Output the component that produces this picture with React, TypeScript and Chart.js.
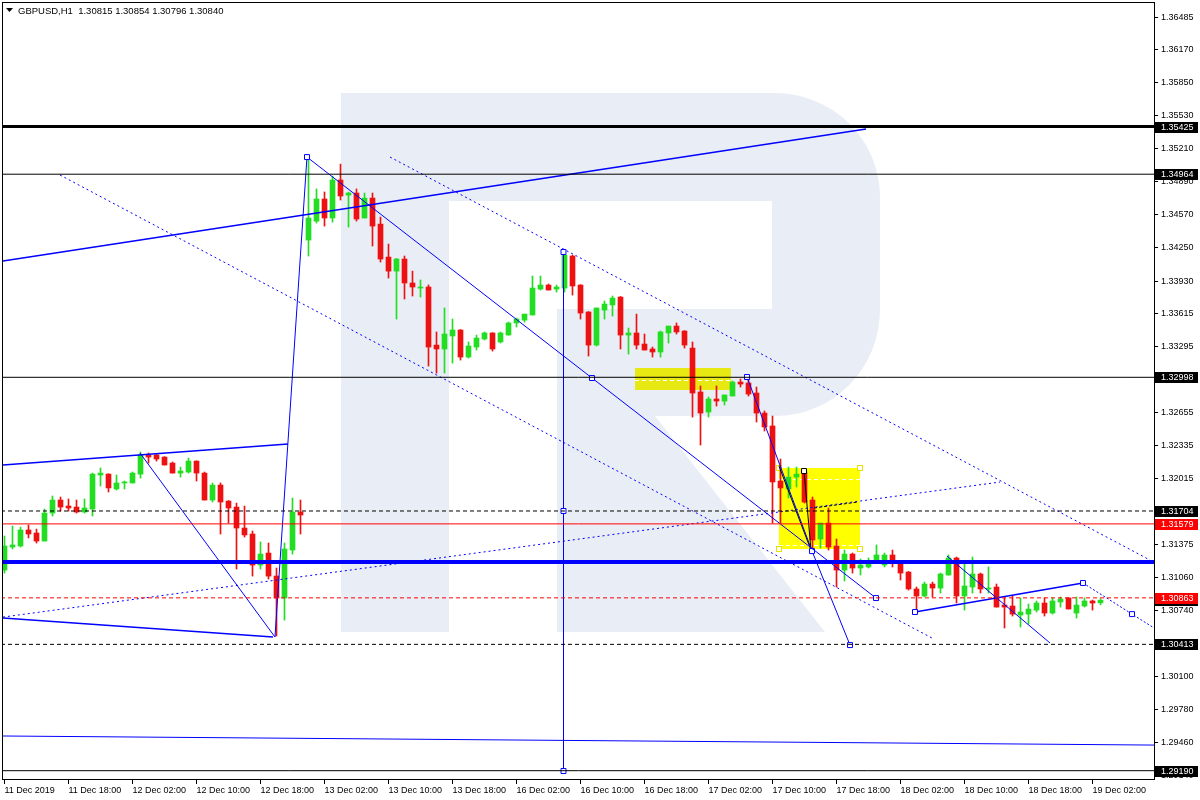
import React, { useEffect, useRef } from 'react';
import { Chart, registerables } from 'chart.js';

Chart.register(...registerables);

// ---------- Candle data (GBPUSD H1, 11 Dec 2019 10:00 .. 19 Dec 2019 03:00) ----------
const OPEN = [
  1.31132, 1.31355, 1.31365, 1.31520, 1.31491, 1.31413, 1.31684, 1.31810, 1.31752, 1.31742,
  1.31694, 1.31723, 1.32052, 1.32061, 1.31917, 1.31975, 1.31975, 1.32061, 1.32246, 1.32246,
  1.32226, 1.32168, 1.32071, 1.32081, 1.32187, 1.32071, 1.31810, 1.31955, 1.31800, 1.31742,
  1.31539, 1.31481, 1.31181, 1.31297, 1.31074, 1.30862, 1.31326, 1.31694, 1.34327, 1.34510,
  1.34724, 1.34540, 1.34908, 1.34762, 1.34782, 1.34540, 1.34733, 1.34481, 1.34162, 1.34026,
  1.34143, 1.33911, 1.33862, 1.33872, 1.33310, 1.33272, 1.33398, 1.33456, 1.33194, 1.33291,
  1.33369, 1.33427, 1.33340, 1.33407, 1.33524, 1.33552, 1.33601, 1.33852, 1.33891, 1.33852,
  1.33862, 1.34172, 1.33891, 1.33630, 1.33310, 1.33649, 1.33698, 1.33775, 1.33407, 1.33427,
  1.33320, 1.33272, 1.33243, 1.33427, 1.33494, 1.33446, 1.33281, 1.32856, 1.32662, 1.32788,
  1.32768, 1.32817, 1.32952, 1.32943, 1.32846, 1.32652, 1.32527, 1.31994, 1.31917, 1.32032,
  1.32081, 1.31810, 1.31433, 1.31587, 1.31365, 1.31132, 1.31287, 1.31152, 1.31162, 1.31210,
  1.31181, 1.31278, 1.31210, 1.31113, 1.30949, 1.30881, 1.30997, 1.30958, 1.31084, 1.31249,
  1.30881, 1.30968, 1.31094, 1.30949, 1.30968, 1.30794, 1.30784, 1.30697, 1.30706, 1.30745,
  1.30813, 1.30716, 1.30823, 1.30862, 1.30716, 1.30784, 1.30833, 1.30815,
];
const HIGH = [
  1.31462, 1.31558, 1.31548, 1.31568, 1.31529, 1.31723, 1.31849, 1.31839, 1.31820, 1.31810,
  1.31820, 1.32071, 1.32120, 1.32065, 1.32052, 1.31994, 1.32081, 1.32275, 1.32265, 1.32255,
  1.32230, 1.32178, 1.32129, 1.32216, 1.32190, 1.32081, 1.31975, 1.31975, 1.31805, 1.31781,
  1.31752, 1.31510, 1.31404, 1.31394, 1.31152, 1.31394, 1.31829, 1.31810, 1.35140, 1.34821,
  1.34792, 1.34946, 1.35062, 1.34790, 1.34821, 1.34782, 1.34782, 1.34549, 1.34288, 1.34150,
  1.34172, 1.34026, 1.33940, 1.33892, 1.33437, 1.33669, 1.33562, 1.33460, 1.33340, 1.33407,
  1.33437, 1.33430, 1.33437, 1.33533, 1.33572, 1.33610, 1.33978, 1.33978, 1.33901, 1.33891,
  1.34211, 1.34181, 1.33895, 1.33635, 1.33669, 1.33736, 1.33785, 1.33780, 1.33475, 1.33610,
  1.33417, 1.33291, 1.33446, 1.33494, 1.33524, 1.33450, 1.33340, 1.32914, 1.32807, 1.32914,
  1.32827, 1.32962, 1.32981, 1.33001, 1.32904, 1.32672, 1.32623, 1.32207, 1.32129, 1.32129,
  1.32110, 1.31839, 1.31587, 1.31733, 1.31433, 1.31326, 1.31297, 1.31239, 1.31249, 1.31375,
  1.31297, 1.31326, 1.31215, 1.31118, 1.30968, 1.31016, 1.31016, 1.31103, 1.31278, 1.31258,
  1.31210, 1.31258, 1.31103, 1.31162, 1.30997, 1.30862, 1.30881, 1.30862, 1.30803, 1.30833,
  1.30862, 1.30862, 1.30871, 1.30865, 1.30871, 1.30862, 1.30842, 1.30854,
];
const LOW = [
  1.31103, 1.31336, 1.31355, 1.31443, 1.31394, 1.31413, 1.31655, 1.31703, 1.31703, 1.31684,
  1.31684, 1.31655, 1.31946, 1.31888, 1.31907, 1.31917, 1.31975, 1.32023, 1.32168, 1.32187,
  1.32149, 1.32071, 1.32032, 1.32071, 1.31994, 1.31810, 1.31791, 1.31481, 1.31587, 1.31142,
  1.31452, 1.31074, 1.31142, 1.31045, 1.30494, 1.30648, 1.31287, 1.31481, 1.34172, 1.34491,
  1.34462, 1.34501, 1.34714, 1.34452, 1.34510, 1.34540, 1.34269, 1.34114, 1.33959, 1.33562,
  1.33756, 1.33785, 1.33775, 1.33107, 1.33039, 1.33039, 1.33136, 1.33165, 1.33184, 1.33262,
  1.33359, 1.33252, 1.33330, 1.33407, 1.33485, 1.33533, 1.33601, 1.33843, 1.33843, 1.33823,
  1.33823, 1.33794, 1.33562, 1.33204, 1.33301, 1.33562, 1.33591, 1.33272, 1.33223, 1.33272,
  1.33262, 1.33194, 1.33194, 1.33330, 1.33417, 1.33281, 1.32613, 1.32343, 1.32613, 1.32720,
  1.32730, 1.32817, 1.32904, 1.32817, 1.32565, 1.32478, 1.31587, 1.31587, 1.31830, 1.31936,
  1.31781, 1.31326, 1.31346, 1.31326, 1.30968, 1.31026, 1.31103, 1.31084, 1.31152, 1.31200,
  1.31162, 1.31162, 1.31036, 1.30939, 1.30716, 1.30871, 1.30871, 1.30910, 1.31084, 1.30813,
  1.30745, 1.30910, 1.30910, 1.30910, 1.30774, 1.30571, 1.30687, 1.30581, 1.30610, 1.30726,
  1.30687, 1.30706, 1.30774, 1.30755, 1.30668, 1.30774, 1.30745, 1.30796,
];
const CLOSE = [
  1.31365, 1.31375, 1.31520, 1.31481, 1.31413, 1.31684, 1.31810, 1.31742, 1.31733, 1.31694,
  1.31733, 1.32061, 1.32071, 1.31927, 1.31975, 1.31985, 1.32071, 1.32246, 1.32226, 1.32207,
  1.32149, 1.32071, 1.32091, 1.32187, 1.32071, 1.31810, 1.31955, 1.31791, 1.31733, 1.31539,
  1.31472, 1.31181, 1.31287, 1.31074, 1.30862, 1.31336, 1.31694, 1.31665, 1.34540, 1.34724,
  1.34540, 1.34908, 1.34753, 1.34782, 1.34530, 1.34733, 1.34462, 1.34143, 1.34026, 1.34143,
  1.33911, 1.33872, 1.33872, 1.33291, 1.33272, 1.33417, 1.33456, 1.33194, 1.33301, 1.33378,
  1.33427, 1.33272, 1.33427, 1.33524, 1.33562, 1.33610, 1.33862, 1.33891, 1.33843, 1.33872,
  1.34181, 1.33882, 1.33620, 1.33310, 1.33669, 1.33707, 1.33765, 1.33407, 1.33427, 1.33310,
  1.33262, 1.33243, 1.33437, 1.33494, 1.33437, 1.33310, 1.32846, 1.32652, 1.32788, 1.32768,
  1.32827, 1.32952, 1.32933, 1.32836, 1.32652, 1.32517, 1.31985, 1.31927, 1.32032, 1.32061,
  1.31791, 1.31423, 1.31587, 1.31355, 1.31132, 1.31287, 1.31152, 1.31181, 1.31210, 1.31278,
  1.31278, 1.31200, 1.31103, 1.30949, 1.30881, 1.30997, 1.30958, 1.31094, 1.31249, 1.30881,
  1.30978, 1.31094, 1.30949, 1.30958, 1.30774, 1.30774, 1.30706, 1.30726, 1.30755, 1.30813,
  1.30716, 1.30833, 1.30852, 1.30755, 1.30794, 1.30833, 1.30813, 1.30840,
];

// ---------- Axes ----------
const TIME_LABELS = [
  '11 Dec 2019', '11 Dec 18:00', '12 Dec 02:00', '12 Dec 10:00', '12 Dec 18:00', '13 Dec 02:00',
  '13 Dec 10:00', '13 Dec 18:00', '16 Dec 02:00', '16 Dec 10:00', '16 Dec 18:00', '17 Dec 02:00',
  '17 Dec 10:00', '17 Dec 18:00', '18 Dec 02:00', '18 Dec 10:00', '18 Dec 18:00', '19 Dec 02:00',
];
const TIME_TICK_BARS = TIME_LABELS.map((_, k) => k * 8);
const PRICE_TICKS = [
  1.36485, 1.36170, 1.35850, 1.35530, 1.35210, 1.34890, 1.34570, 1.34250, 1.33930, 1.33615,
  1.33295, 1.32975, 1.32655, 1.32335, 1.32015, 1.31695, 1.31375, 1.31060, 1.30740, 1.30420,
  1.30100, 1.29780, 1.29460, 1.29140,
];
const X_MIN = -0.3125;
const X_MAX = 143.8125;
const Y_MIN = 1.291;
const Y_MAX = 1.36631;

// ---------- Horizontal levels ----------
const LEVEL_THICK_BLACK = 1.35425;
const LEVEL_BLACK = [1.34964, 1.32998, 1.29190];
const LEVEL_BLACK_DASH = [1.31704, 1.30413];
const LEVEL_RED = 1.31579;
const LEVEL_RED_DASH = 1.30863;
const LEVEL_BLUE_THICK = 1.31211;
const BID = 1.30840;

// ---------- Trend lines: [bar index, price] ----------
const UP_LONG = [[-0.19, 1.34124], [107.69, 1.35401]];
const CH_LOWER_DOT = [[6.94, 1.34956], [115.94, 1.30474]];
const CH_MAIN = [[37.81, 1.35130], [73.44, 1.32991], [108.94, 1.30861]];
const ZIGZAG_B = [[92.81, 1.33001], [100.94, 1.31316], [105.69, 1.30406]];
const CH_UPPER_DOT = [[48.19, 1.35130], [143.19, 1.31229]];
const LEFT_TOP = [[-0.19, 1.32149], [35.44, 1.32352]];
const LEFT_BOTTOM = [[-0.19, 1.30668], [33.56, 1.30484]];
const ZIGZAG_A = [[16.94, 1.32265], [33.81, 1.30484], [37.81, 1.35130]];
const RISING_DOT = [[-0.19, 1.30677], [124.44, 1.31984]];
const RIGHT_UP = [[113.81, 1.30726], [134.81, 1.31007]];
const RIGHT_DOWN_DOT = [[134.81, 1.31007], [140.94, 1.30706], [145.69, 1.30474]];
const RIGHT_ZIG = [[117.81, 1.31268], [130.69, 1.30426]];
const BOTTOM_LONG = [[-0.19, 1.29526], [143.81, 1.29438]];
const VERTICAL = [[69.875, 1.34211], [69.875, 1.31704], [69.875, 1.29187]];
const FIB_A = [[96.81, 1.32139], [100.81, 1.31326]];
const FIB_B = [[99.94, 1.32091], [100.81, 1.31326]];
const FIB_DASH = [[101.19, 1.31733], [106.69, 1.31791]];

// ---------- Rectangles: [x0, x1, priceTop, priceBottom] and inner dashed levels ----------
const BOX_A = [78.81, 90.81, 1.33088, 1.32875];
const BOX_A_LEVELS = [1.32972];
const BOX_B = [96.81, 106.94, 1.32120, 1.31336];
const BOX_B_LEVELS = [1.32013, 1.31374];

const GREEN = '#22dd22';
const RED = '#ee1111';
const BLUE = '#0000ff';
const FONT = '"Liberation Sans", Arial, sans-serif';

function lineDs(pts: number[][], color: string, width: number, dash: number[] = [], markers: number[] = [], markerColor = BLUE) {
  return {
    type: 'line',
    data: pts.map(([x, y]) => ({ x, y })),
    borderColor: color,
    borderWidth: width,
    borderDash: dash,
    pointStyle: 'rect',
    pointRadius: pts.map((_, i) => (markers.includes(i) ? 3.5 : 0)),
    pointBorderColor: markerColor,
    pointBackgroundColor: '#ffffff',
    pointBorderWidth: 1,
    fill: false,
    tension: 0,
    order: 1,
  };
}

function levelDs(v: number, color: string, width: number, dash: number[] = []) {
  return lineDs([[X_MIN - 1, v], [X_MAX + 1, v]], color, width, dash);
}

function noPad(s: any) {
  s.paddingTop = 0;
  s.paddingBottom = 0;
  s.paddingLeft = 0;
  s.paddingRight = 0;
}

const overlayPlugin = {
  id: 'mt4overlay',
  beforeDatasetsDraw(chart: any) {
    const { ctx, chartArea: a, scales } = chart;
    const xs = scales.x;
    const ys = scales.y;
    ctx.save();
    ctx.beginPath();
    ctx.rect(a.left, a.top, a.right - a.left, a.bottom - a.top);
    ctx.clip();
    // watermark logo
    ctx.fillStyle = '#e9edf5';
    ctx.fillRect(341, 93, 108, 539);
    ctx.beginPath();
    ctx.moveTo(449, 93);
    ctx.lineTo(775, 93);
    ctx.ellipse(775, 197, 105, 104, 0, -Math.PI / 2, 0);
    ctx.lineTo(880, 310);
    ctx.ellipse(775, 310, 105, 106, 0, 0, Math.PI / 2);
    ctx.lineTo(557, 416);
    ctx.lineTo(557, 309);
    ctx.lineTo(772, 309);
    ctx.lineTo(772, 201);
    ctx.lineTo(449, 201);
    ctx.closePath();
    ctx.fill();
    ctx.beginPath();
    ctx.moveTo(557, 416);
    ctx.lineTo(655, 416);
    ctx.lineTo(825, 632);
    ctx.lineTo(557, 632);
    ctx.closePath();
    ctx.fill();

    const drawBox = (b: number[], levels: number[], color: string, corners: boolean) => {
      const x1 = Math.round(xs.getPixelForValue(b[0]));
      const x2 = Math.round(xs.getPixelForValue(b[1]));
      const y1 = Math.round(ys.getPixelForValue(b[2]));
      const y2 = Math.round(ys.getPixelForValue(b[3]));
      ctx.fillStyle = color;
      ctx.fillRect(x1, y1, x2 - x1, y2 - y1);
      ctx.strokeStyle = '#ffffff';
      ctx.lineWidth = 1;
      ctx.setLineDash([4, 3]);
      for (const lv of levels) {
        const yy = Math.round(ys.getPixelForValue(lv)) + 0.5;
        ctx.beginPath();
        ctx.moveTo(x1, yy);
        ctx.lineTo(x2, yy);
        ctx.stroke();
      }
      ctx.setLineDash([]);
      if (corners) {
        ctx.strokeStyle = '#e8e000';
        ctx.fillStyle = '#ffffff';
        for (const [cx, cy] of [[x1, y1], [x2, y1], [x1, y2], [x2, y2]]) {
          ctx.fillRect(cx - 3, cy - 3, 6, 6);
          ctx.strokeRect(cx - 2.5, cy - 2.5, 5, 5);
        }
      }
    };
    drawBox(BOX_A, BOX_A_LEVELS, '#e8e812', false);
    drawBox(BOX_B, BOX_B_LEVELS, '#ffff00', true);
    ctx.restore();
  },
  afterDraw(chart: any) {
    const { ctx, chartArea: a, scales } = chart;
    const ys = scales.y;
    ctx.save();
    // frame
    ctx.strokeStyle = '#000000';
    ctx.lineWidth = 1;
    ctx.setLineDash([]);
    ctx.strokeRect(a.left + 0.5, a.top + 0.5, a.right - a.left - 1, a.bottom - a.top - 1);
    // header
    ctx.fillStyle = '#000000';
    ctx.beginPath();
    ctx.moveTo(6, 8);
    ctx.lineTo(13, 8);
    ctx.lineTo(9.5, 12);
    ctx.closePath();
    ctx.fill();
    ctx.font = '9.5px ' + FONT;
    ctx.textBaseline = 'middle';
    ctx.textAlign = 'left';
    ctx.fillText(`GBPUSD,H1  ${OPEN[OPEN.length - 1].toFixed(5)} ${HIGH[HIGH.length - 1].toFixed(5)} ${LOW[LOW.length - 1].toFixed(5)} ${CLOSE[CLOSE.length - 1].toFixed(5)}`, 18, 11);
    // price labels on axis
    const tags: [number, string][] = [
      [LEVEL_THICK_BLACK, '#000000'],
      [LEVEL_BLACK[0], '#000000'],
      [LEVEL_BLACK[1], '#000000'],
      [LEVEL_BLACK_DASH[0], '#000000'],
      [LEVEL_RED, '#ff0000'],
      [BID, '#000000'],
      [LEVEL_RED_DASH, '#ff0000'],
      [LEVEL_BLACK_DASH[1], '#000000'],
      [LEVEL_BLACK[2], '#000000'],
    ];
    ctx.font = '9px ' + FONT;
    for (const [v, c] of tags) {
      const yy = Math.round(ys.getPixelForValue(v));
      ctx.fillStyle = c;
      ctx.fillRect(a.right, yy - 5, 43, 11);
      ctx.fillStyle = '#ffffff';
      ctx.fillText(v.toFixed(5), a.right + 6, yy + 0.5);
    }
    ctx.restore();
  },
};

export default function App() {
  const ref = useRef<HTMLCanvasElement>(null);
  useEffect(() => {
    const idx = OPEN.map((_, i) => i);
    const colors = idx.map((i) => (CLOSE[i] >= OPEN[i] ? GREEN : RED));
    const datasets: any[] = [
      // overlays (drawn on top)
      levelDs(LEVEL_THICK_BLACK, '#000000', 3),
      ...LEVEL_BLACK.map((v) => levelDs(v, '#000000', 1)),
      ...LEVEL_BLACK_DASH.map((v) => levelDs(v, '#000000', 1, [4, 3])),
      levelDs(LEVEL_RED, '#ff0000', 1),
      levelDs(LEVEL_RED_DASH, '#ff0000', 1, [4, 3]),
      levelDs(LEVEL_BLUE_THICK, BLUE, 4),
      lineDs(UP_LONG, BLUE, 1.5),
      lineDs(CH_LOWER_DOT, BLUE, 1, [2, 3]),
      lineDs(CH_MAIN, BLUE, 1, [], [0, 1, 2]),
      lineDs(ZIGZAG_B, BLUE, 1, [], [0, 1, 2]),
      lineDs(CH_UPPER_DOT, BLUE, 1, [2, 3]),
      lineDs(LEFT_TOP, BLUE, 1.5),
      lineDs(LEFT_BOTTOM, BLUE, 1.5),
      lineDs(ZIGZAG_A, BLUE, 1),
      lineDs(RISING_DOT, BLUE, 1, [2, 3]),
      lineDs(RIGHT_UP, BLUE, 1.5, [], [0, 1]),
      lineDs(RIGHT_DOWN_DOT, BLUE, 1, [2, 2], [1]),
      lineDs(RIGHT_ZIG, BLUE, 1),
      lineDs(BOTTOM_LONG, BLUE, 1),
      lineDs(VERTICAL, BLUE, 1, [], [0, 1, 2]),
      lineDs(FIB_A, '#000000', 1),
      lineDs(FIB_B, '#000000', 1, [], [0], '#000000'),
      lineDs(FIB_DASH, '#000000', 1, [3, 2]),
      // candles
      {
        type: 'bar',
        data: idx.map((i) => ({ x: i, y: [OPEN[i], CLOSE[i]] })),
        backgroundColor: colors,
        borderWidth: 0,
        barThickness: 5,
        grouped: false,
        minBarLength: 1,
        order: 9,
      },
      {
        type: 'bar',
        data: idx.map((i) => ({ x: i, y: [LOW[i], HIGH[i]] })),
        backgroundColor: colors,
        borderWidth: 0,
        barThickness: 1,
        grouped: false,
        minBarLength: 1,
        order: 10,
      },
    ];

    const chart = new Chart(ref.current as HTMLCanvasElement, {
      type: 'bar',
      data: { datasets },
      plugins: [overlayPlugin],
      options: {
        animation: false,
        responsive: false,
        devicePixelRatio: 1,
        events: [],
        layout: { padding: { left: 2, top: 2, right: 0, bottom: 0 }, autoPadding: false },
        plugins: { legend: { display: false }, tooltip: { enabled: false } },
        scales: {
          x: {
            type: 'linear',
            min: X_MIN,
            max: X_MAX,
            offset: false,
            afterFit: (s: any) => { s.height = 20; noPad(s); },
            afterBuildTicks: (s: any) => { s.ticks = TIME_TICK_BARS.map((v) => ({ value: v })); },
            border: { display: false },
            grid: { display: true, drawOnChartArea: false, drawTicks: true, tickLength: 4, color: '#000000', offset: false },
            ticks: {
              autoSkip: false,
              maxRotation: 0,
              minRotation: 0,
              align: 'start',
              padding: 1,
              color: '#000000',
              font: { family: FONT, size: 9 },
              callback: (v: any) => TIME_LABELS[TIME_TICK_BARS.indexOf(Number(v))] ?? '',
            },
          },
          y: {
            type: 'linear',
            position: 'right',
            min: Y_MIN,
            max: Y_MAX,
            afterFit: (s: any) => { s.width = 45; noPad(s); },
            afterBuildTicks: (s: any) => { s.ticks = PRICE_TICKS.map((v) => ({ value: v })); },
            border: { display: false },
            grid: { display: true, drawOnChartArea: false, drawTicks: true, tickLength: 3, color: '#000000' },
            ticks: {
              padding: 3,
              color: '#000000',
              font: { family: FONT, size: 9 },
              callback: (v: any) => Number(v).toFixed(5),
            },
          },
        },
      } as any,
    } as any);
    return () => chart.destroy();
  }, []);

  return (
    <div style={{ position: 'absolute', left: 0, top: 0, width: 1200, height: 800, background: '#ffffff' }}>
      <canvas ref={ref} width={1200} height={800} style={{ display: 'block' }} />
    </div>
  );
}
